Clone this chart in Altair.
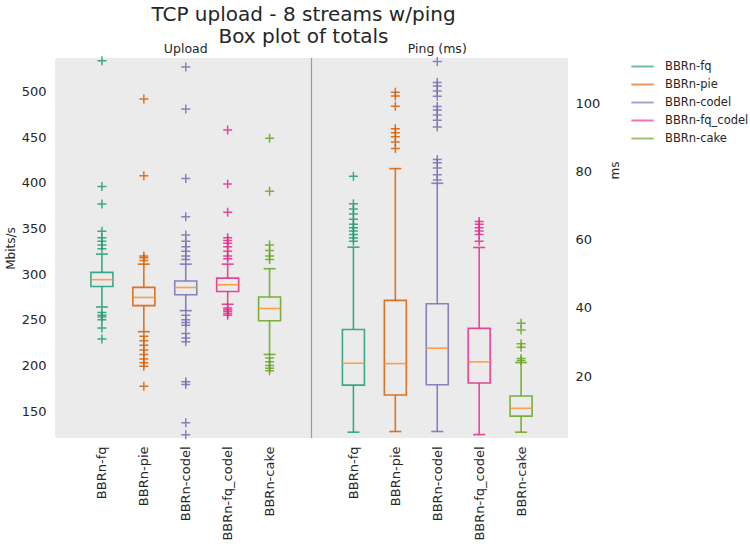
import altair as alt
import pandas as pd

# ---------------- data ----------------
names = ["BBRn-fq", "BBRn-pie", "BBRn-codel", "BBRn-fq_codel", "BBRn-cake"]
colors = ["#1b9e77", "#d95f02", "#7570b3", "#e7298a", "#66a61e"]

# Upload (Mbits/s)
up_whislo = [264, 237, 260, 267, 212]
up_q1 = [286.5, 265.5, 277.5, 281.0, 249.0]
up_med = [294.0, 274.5, 285.4, 288.4, 262.4]
up_q3 = [302.0, 285.5, 292.5, 295.7, 275.0]
up_whishi = [322, 311, 311, 311, 306]
up_outliers = [
    [534, 396, 377, 347, 340, 336, 332, 328, 258, 255, 253, 250, 241, 229],
    [492, 408, 320, 318, 315, 232, 227, 222, 217, 212, 207, 203, 199, 177],
    [527, 481, 405, 363, 343, 336, 330, 325, 320, 316, 255, 250, 247, 244,
     235, 230, 226, 182, 179, 137, 124],
    [458, 399, 368, 340, 337, 334, 330, 325, 320, 317, 263, 261, 259, 257, 255],
    [449, 391, 332, 326, 320, 316, 208, 204, 200, 197, 194],
]

# Ping (ms)
ping_whislo = [3.6, 3.8, 3.8, 2.9, 3.6]
ping_q1 = [17.4, 14.5, 17.5, 18.0, 8.3]
ping_med = [23.8, 23.7, 28.2, 24.2, 10.6]
ping_q3 = [33.7, 42.2, 41.2, 34.0, 14.2]
ping_whishi = [57.8, 80.8, 76.5, 57.7, 24.0]
ping_outliers = [
    [78.6, 70.5, 69.0, 67.5, 66.0, 64.5, 63.5, 62.5, 61.5, 60.5, 59.5],
    [103.2, 102.1, 99.1, 92.5, 91.3, 90.1, 88.6, 86.7],
    [112.2, 106.0, 105.0, 103.5, 102.0, 99.0, 98.0, 96.5, 95.0, 93.0,
     83.5, 82.5, 81.0, 79.0, 77.5],
    [65.3, 64.5, 63.5, 62.5, 61.5, 59.5],
    [35.5, 33.5, 29.5, 28.5, 25.2, 24.6],
]

panel_titles = ["Upload", "Ping (ms)"]
up_ticks = [150, 200, 250, 300, 350, 400, 450, 500]
ping_ticks = [20, 40, 60, 80, 100]


def box_frame(lo, q1, med, q3, hi, offset):
    return pd.DataFrame({
        "name": names,
        "pos": [i + offset for i in range(len(names))],
        "lo": lo, "q1": q1, "med": med, "q3": q3, "hi": hi,
    })


def out_frame(outs, offset):
    rows = []
    for i, (n, vs) in enumerate(zip(names, outs)):
        for v in vs:
            rows.append({"name": n, "pos": i + offset, "v": v})
    return pd.DataFrame(rows)


up_box = box_frame(up_whislo, up_q1, up_med, up_q3, up_whishi, 1)
ping_box = box_frame(ping_whislo, ping_q1, ping_med, ping_q3, ping_whishi, 7)
up_out = out_frame(up_outliers, 1)
ping_out = out_frame(ping_outliers, 7)

# ---------------- encodings ----------------
FONT = "DejaVu Sans"
TXT = "#262626"
MED = "#ff9933"
HLINE = "M-1,0L1,0"
PLUS = "M-1,0L1,0M0,-1L0,1"
LW = 1.6

lbls = [""] + names + [""] + names
label_expr = "[" + ",".join("'%s'" % s for s in lbls) + "][datum.value]"

X = alt.X(
    "pos:Q",
    scale=alt.Scale(domain=[0, 12], nice=False, zero=False),
    axis=alt.Axis(
        values=[1, 2, 3, 4, 5, 7, 8, 9, 10, 11],
        labelExpr=label_expr,
        labelAngle=-90,
        labelFontSize=13,
        labelColor=TXT,
        labelPadding=8,
        ticks=False,
        domain=False,
        grid=False,
        title=None,
    ),
)

legend = alt.Legend(
    orient="none",
    legendX=575,
    legendY=-4,
    title=None,
    symbolType="stroke",
    symbolStrokeWidth=2,
    symbolSize=500,
    symbolOpacity=0.65,
    labelFontSize=11.5,
    labelColor=TXT,
    labelOffset=10,
    rowPadding=-4.6,
    padding=0,
)
COLOR = alt.Color("name:N", scale=alt.Scale(domain=names, range=colors),
                  legend=legend, sort=names)


def panel(box_df, out_df, yscale, yaxis, extra=None):
    def Y(f):
        return alt.Y(f, scale=yscale, axis=yaxis)

    base = alt.Chart(box_df).encode(x=X, color=COLOR)
    whisk_lo = base.mark_rule(strokeWidth=LW, opacity=0.85).encode(
        y=Y("lo:Q"), y2="q1:Q")
    whisk_hi = base.mark_rule(strokeWidth=LW, opacity=0.85).encode(
        y=Y("q3:Q"), y2="hi:Q")
    box = base.mark_bar(filled=False, size=22, strokeWidth=LW, opacity=0.85,
                        orient="vertical").encode(y=Y("q1:Q"), y2="q3:Q")
    cap_lo = base.mark_point(shape=HLINE, size=144, filled=False,
                             strokeWidth=LW, opacity=0.85).encode(y=Y("lo:Q"))
    cap_hi = base.mark_point(shape=HLINE, size=144, filled=False,
                             strokeWidth=LW, opacity=0.85).encode(y=Y("hi:Q"))
    med = alt.Chart(box_df).mark_point(
        shape=HLINE, size=484, filled=False, strokeWidth=LW, opacity=0.9
    ).encode(x=X, y=Y("med:Q"), color=alt.value(MED))
    outs = alt.Chart(out_df).mark_point(
        shape=PLUS, size=81, filled=False, strokeWidth=1.5, opacity=0.85
    ).encode(x=X, y=Y("v:Q"), color=COLOR)
    layers = [whisk_lo, whisk_hi, box, cap_lo, cap_hi, med, outs]
    if extra:
        layers = extra + layers
    return alt.layer(*layers)


up_scale = alt.Scale(domain=[120.4, 537], nice=False, zero=False)
up_axis = alt.Axis(
    orient="left", values=up_ticks, title="Mbits/s", titleFontSize=12,
    titleFontWeight="normal", titleColor=TXT, titlePadding=4,
    labelFontSize=13, labelColor=TXT, labelPadding=9, ticks=False,
    domain=False, grid=False,
)
ping_scale = alt.Scale(domain=[1.9, 113.2], nice=False, zero=False)
ping_axis = alt.Axis(
    orient="right", values=ping_ticks, title="ms", titleFontSize=12,
    titleFontWeight="normal", titleColor=TXT, titlePadding=22,
    titleAngle=270, titleY=112,
    labelFontSize=13, labelColor=TXT, labelPadding=7, ticks=False,
    domain=False, grid=False,
)

divider = alt.Chart(pd.DataFrame({"pos": [6]})).mark_rule(
    color="#999999", strokeWidth=1.2).encode(x=X)
subtitles = alt.Chart(pd.DataFrame({"pos": [3, 9], "label": panel_titles})).mark_text(
    baseline="alphabetic", fontSize=12.5, color=TXT, font=FONT
).encode(x=X, y=alt.value(-5), text="label:N")

up_layer = panel(up_box, up_out, up_scale, up_axis, extra=[divider, subtitles])
ping_layer = panel(ping_box, ping_out, ping_scale, ping_axis)

chart = (
    alt.layer(up_layer, ping_layer)
    .resolve_scale(y="independent")
    .properties(
        width=513,
        height=380,
        autosize="none",
        padding={"left": 55, "top": 58, "right": 182, "bottom": 111},
        title=alt.Title(
            ["TCP upload - 8 streams w/ping", "Box plot of totals"],
            fontSize=20, fontWeight="normal", lineHeight=22, dx=-8,
            offset=-4, color=TXT, font=FONT, anchor="middle",
        ),
    )
    .configure(font=FONT)
    .configure_view(fill="#ebebeb", stroke=None)
)

chart.save("out.html", embed_options={"renderer": "svg", "actions": False})
